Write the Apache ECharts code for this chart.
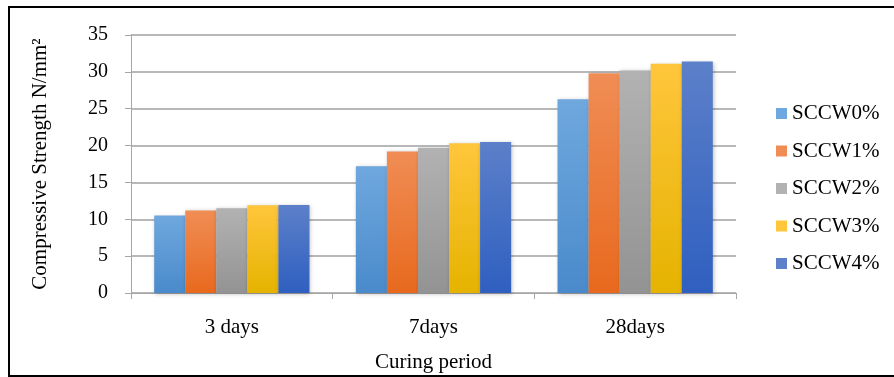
<!DOCTYPE html>
<html><head><meta charset="utf-8">
<script src="https://cdn.jsdelivr.net/npm/echarts@6/dist/echarts.min.js"></script>
<style>html,body{margin:0;padding:0;background:#fff}#c{width:894px;height:377px}</style>
</head><body><div id="c"></div>
<script>
var categories = ['3 days', '7days', '28days'];
var seriesNames = ['SCCW0%', 'SCCW1%', 'SCCW2%', 'SCCW3%', 'SCCW4%'];
var sccw0 = [10.5, 17.2, 26.3];
var sccw1 = [11.2, 19.2, 29.8];
var sccw2 = [11.5, 19.7, 30.2];
var sccw3 = [11.9, 20.3, 31.1];
var sccw4 = [11.95, 20.5, 31.4];
var yTicks = [0, 5, 10, 15, 20, 25, 30, 35];
var values = [sccw0, sccw1, sccw2, sccw3, sccw4];
var grads = [['#6fa8de', '#4a8acb'], ['#f08d55', '#e8691e'], ['#b2b2b2', '#939393'], ['#ffc63c', '#e5b300'], ['#5c80c9', '#2f5fc0']];
var font = 'Liberation Serif';
var chart = echarts.init(document.getElementById('c'));
chart.setOption({
  animation: false,
  textStyle: {fontFamily: font},
  graphic: [{type: 'rect', shape: {x: 9, y: 7, width: 900, height: 369}, style: {fill: 'none', stroke: '#000', lineWidth: 2}, silent: true}],
  grid: {left: 131, right: 158, top: 35, bottom: 84, containLabel: false, outerBoundsMode: 'none'},
  legend: {
    orient: 'vertical', left: 771, top: 98, itemWidth: 11, itemHeight: 11, itemGap: 16.5,
    textStyle: {fontFamily: font, fontSize: 21, color: '#000'},
    data: seriesNames.map(function (n, i) { return {name: n, icon: 'rect', itemStyle: {color: grads[i][0]}}; })
  },
  xAxis: {
    type: 'category', data: categories,
    name: 'Curing period', nameLocation: 'middle', nameGap: 59,
    nameTextStyle: {fontFamily: font, fontSize: 21, color: '#000'},
    axisLine: {lineStyle: {color: '#a6a6a6', width: 1}},
    axisTick: {show: true, length: 6, lineStyle: {color: '#a6a6a6'}},
    axisLabel: {fontFamily: font, fontSize: 21, color: '#000', margin: 24}
  },
  yAxis: {
    type: 'value', min: yTicks[0], max: yTicks[yTicks.length - 1], interval: 5,
    name: 'Compressive Strength N/mm\u00B2', nameLocation: 'middle', nameGap: 80,
    nameTextStyle: {fontFamily: font, fontSize: 21, color: '#000'},
    axisLine: {show: true, lineStyle: {color: '#a6a6a6', width: 1}},
    axisTick: {show: true, length: 6, lineStyle: {color: '#a6a6a6'}},
    axisLabel: {fontFamily: font, fontSize: 20, color: '#000', margin: 23},
    splitLine: {lineStyle: {color: '#a0a0a0', width: 1.5}}
  },
  series: seriesNames.map(function (n, i) {
    return {
      name: n, type: 'bar', data: values[i], barGap: '0%', barCategoryGap: '23%',
      itemStyle: {
        color: new echarts.graphic.LinearGradient(0, 0, 0, 1, [{offset: 0, color: grads[i][0]}, {offset: 1, color: grads[i][1]}]),
        shadowColor: 'rgba(0,0,0,0.25)', shadowBlur: 4, shadowOffsetX: 1, shadowOffsetY: 1
      }
    };
  })
});
</script></body></html>
